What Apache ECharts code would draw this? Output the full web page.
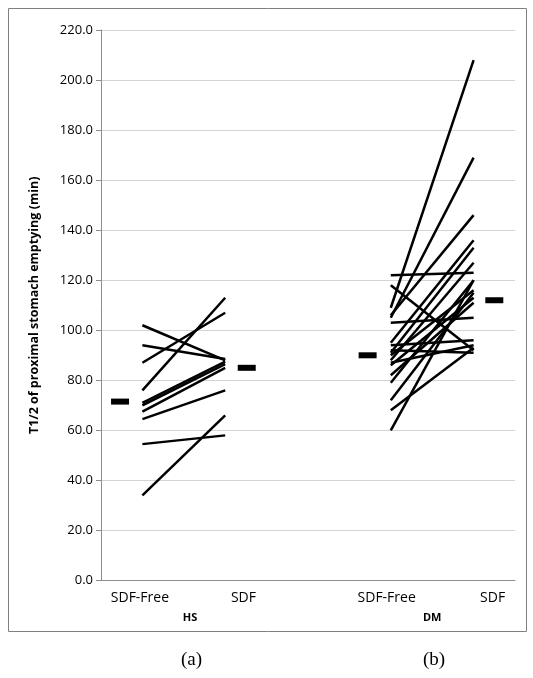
<!DOCTYPE html>
<html>
<head>
<meta charset="utf-8">
<script src="https://cdn.jsdelivr.net/npm/echarts@6/dist/echarts.min.js"></script>
<style>
  html, body { margin: 0; padding: 0; background: #fff; }
  #chart { width: 533px; height: 678px; }
</style>
</head>
<body>
<div id="chart"></div>
<script>
// individual subjects, T1/2 (min)
var hsFree = [102, 94, 87, 76, 71, 70, 67.5, 64.5, 54.5, 34];
var hsSdf  = [88, 88.5, 107, 113, 87.5, 86.5, 85, 76, 58, 66];

var dmFree = [109, 105, 103, 106, 122, 118, 95, 91, 88, 94, 90, 86, 82, 79, 72, 68, 60, 87, 92];
var dmSdf  = [208, 169, 105, 146, 123, 92, 136, 133, 127, 96, 116, 113, 111, 120, 115, 93, 120, 94, 91];

// group means (short thick dashes)
var meanValues = [71.5, 85, 90, 112];

var conditionLabels = ['SDF-Free', 'SDF', 'SDF-Free', 'SDF'];
var groupLabels = ['HS', 'DM'];
var panelLabels = ['(a)', '(b)'];
var yTitle = 'T1/2 of proximal stomach emptying (min)';

// x positions on the category scale (1..5)
var hsX = [1, 2], dmX = [4, 5];
var meanX = [0.73, 2.26, 3.72, 5.25];
var conditionX = [0.97, 2.22, 3.95, 5.23];
var groupX = [1.575, 4.5];

var series = [];
function addPairs(free, sdf, xs) {
  for (var i = 0; i < free.length; i++) {
    series.push({
      type: 'line',
      data: [[xs[0], free[i]], [xs[1], sdf[i]]],
      showSymbol: false,
      symbol: 'none',
      silent: true,
      lineStyle: { color: '#000', width: 2.5 }
    });
  }
}
addPairs(hsFree, hsSdf, hsX);
addPairs(dmFree, dmSdf, dmX);

series.push({
  type: 'scatter',
  symbol: 'rect',
  symbolSize: [18, 6],
  itemStyle: { color: '#000', opacity: 1 },
  data: meanX.map(function (x, i) { return [x, meanValues[i]]; })
});

function labelFor(xs, names) {
  return function (v) {
    for (var i = 0; i < xs.length; i++) {
      if (Math.abs(xs[i] - v) < 1e-6) return names[i];
    }
    return '';
  };
}

var chart = echarts.init(document.getElementById('chart'));
chart.setOption({
  animation: false,
  grid: { left: 101, right: 18, top: 30, bottom: 97.5 },
  xAxis: [
    {
      type: 'value', min: 0.5, max: 5.5,
      axisLine: { show: true, lineStyle: { color: '#8c8c8c', width: 1 } },
      axisTick: { show: false },
      splitLine: { show: false },
      axisLabel: {
        customValues: conditionX,
        formatter: labelFor(conditionX, conditionLabels),
        color: '#000', fontSize: 14, fontFamily: 'Open Sans', margin: 11
      }
    },
    {
      type: 'value', min: 0.5, max: 5.5, position: 'bottom',
      axisLine: { show: false },
      axisTick: { show: false },
      splitLine: { show: false },
      axisLabel: {
        customValues: groupX,
        formatter: labelFor(groupX, groupLabels),
        color: '#000', fontSize: 11, fontWeight: 'bold', fontFamily: 'Open Sans', margin: 32
      }
    }
  ],
  yAxis: {
    type: 'value', min: 0, max: 220, interval: 20,
    name: yTitle,
    nameLocation: 'middle',
    nameGap: 60,
    nameTextStyle: { color: '#000', fontSize: 12.5, fontWeight: 'bold', fontFamily: 'Open Sans' },
    axisLine: { show: true, lineStyle: { color: '#8c8c8c', width: 1 } },
    axisTick: { show: true, inside: false, length: 5, lineStyle: { color: '#8c8c8c' } },
    splitLine: { show: true, lineStyle: { color: '#d4d4d4', width: 1 } },
    axisLabel: {
      formatter: function (v) { return v.toFixed(1); },
      color: '#000', fontSize: 13, fontFamily: 'Open Sans', margin: 8
    }
  },
  graphic: [
    {
      type: 'rect', silent: true,
      shape: { x: 8.5, y: 8.5, width: 518, height: 623 },
      style: { fill: 'none', stroke: '#7f7f7f', lineWidth: 1 }
    },
    {
      type: 'text', left: 181, top: 651,
      style: { text: panelLabels[0], fill: '#000', font: '19px "Liberation Serif"' }
    },
    {
      type: 'text', left: 423, top: 651,
      style: { text: panelLabels[1], fill: '#000', font: '19px "Liberation Serif"' }
    }
  ],
  series: series
});
</script>
</body>
</html>
